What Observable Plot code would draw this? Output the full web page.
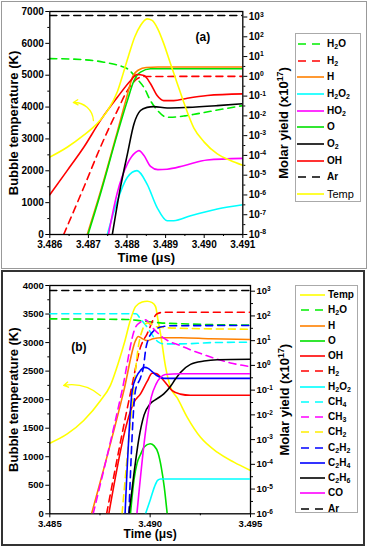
<!DOCTYPE html>
<html><head><meta charset="utf-8">
<script src="https://cdn.jsdelivr.net/npm/d3@7"></script>
<script src="https://cdn.jsdelivr.net/npm/@observablehq/plot@0.6"></script>
<style>
body{margin:0;background:#fff;font-family:"Liberation Sans",Arial,sans-serif;}
#page{position:relative;width:368px;height:550px;overflow:hidden;background:#fff;}
.box{position:absolute;box-sizing:border-box;}
.layer{position:absolute;}
.legend{position:absolute;box-sizing:border-box;border:1px solid #aaa;background:#fff;font-weight:bold;font-size:10px;color:#000;}
.row{position:absolute;left:0;height:16px;display:flex;align-items:center;white-space:nowrap;}
.row svg{flex:none;}
.row span{margin-left:3px;line-height:10px;}
.row sub{font-size:7px;vertical-align:-2px;line-height:0;}
</style></head>
<body><div id="page">
<div class="box" style="left:1px;top:1px;width:366px;height:268px;border:1px solid #999;"></div>
<div class="box" style="left:1px;top:270px;width:364px;height:276px;border:2px solid #333;"></div>
</div>
<script>
// ================= Panel (a) data =================
const timeTicksA = [3.486, 3.487, 3.488, 3.489, 3.490, 3.491];
const tempTicksA = [0, 1000, 2000, 3000, 4000, 5000, 6000, 7000];
const yieldTicksA = [1e-8, 1e-7, 1e-6, 1e-5, 1e-4, 1e-3, 1e-2, 1e-1, 1e0, 1e1, 1e2, 1e3];

const tTempA = [3.48600,3.48645,3.48688,3.48720,3.48749,3.48775,3.48790,3.48805,3.48820,3.48835,3.48852,3.48865,3.48880,3.48895,3.48913,3.48930,3.48947,3.48973,3.49000,3.49034,3.49068,3.49100];
const TempA  = [2430,2740,3120,3450,3880,4480,5050,5650,6200,6560,6770,6720,6450,6000,5350,4750,4150,3350,2900,2530,2320,2170];

const tH2O_A = [3.48600,3.48690,3.48740,3.48780,3.48800,3.48827,3.48845,3.48860,3.48880,3.48900,3.48912,3.48950,3.48980,3.49050,3.49100];
const H2O_A  = [7.9,6.9,5.2,3.5,2.5,0.71,0.25,0.063,0.018,0.0089,0.0085,0.010,0.0126,0.0224,0.033];
const tH2_A  = [3.48636,3.48688,3.48731,3.48775,3.48801,3.48826,3.48844,3.49100];
const H2_A   = [1e-8,2.4e-6,2.57e-4,0.0186,0.19,0.74,0.98,1.0];
const tH_A   = [3.48697,3.48731,3.48775,3.48800,3.48815,3.48830,3.48850,3.48880,3.49100];
const H_A    = [1e-8,1.4e-6,1.6e-3,0.1,1.0,2.1,2.8,2.95,2.95];
const tH2O2_A = [3.48749,3.48775,3.48801,3.48826,3.48852,3.48878,3.48904,3.48921,3.48965,3.49034,3.49100];
const H2O2_A  = [1e-8,5.1e-7,7.8e-6,1.7e-5,3.55e-6,2.3e-7,5.0e-8,5.0e-8,8.9e-8,1.95e-7,3.2e-7];
const tHO2_A = [3.48752,3.48774,3.48801,3.48823,3.48831,3.48844,3.48861,3.48880,3.48904,3.48947,3.49008,3.49100];
const HO2_A  = [1e-8,1.12e-6,3.7e-5,1.45e-4,1.74e-4,9.8e-5,2.8e-5,1.9e-5,2.0e-5,3.0e-5,5.9e-5,7.1e-5];
const tO_A   = [3.48699,3.48731,3.48775,3.48801,3.48818,3.48835,3.48861,3.49100];
const O_A    = [1e-8,1.12e-6,1.23e-3,0.059,0.60,1.62,2.4,2.4];
const tO2_A  = [3.48762,3.48783,3.48801,3.48818,3.48835,3.48852,3.48869,3.48904,3.48956,3.49034,3.49100];
const O2_A   = [1e-8,2.4e-6,1.17e-4,3.9e-3,0.0186,0.0269,0.0295,0.0251,0.0269,0.033,0.041];
const tOH_A  = [3.48600,3.48645,3.48688,3.48731,3.48775,3.48809,3.48826,3.48844,3.48861,3.48878,3.48895,3.48921,3.48956,3.49008,3.49100];
const OH_A   = [1.02e-6,1.7e-5,2.57e-4,5.75e-3,0.087,0.60,1.23,1.10,0.42,0.107,0.059,0.059,0.078,0.107,0.129];
const tAr_A  = [3.486,3.491];
const Ar_A   = [1200,1200];
const arrowA = {t1:3.48713, T1:3578, t2:3.48661, T2:4143};

// ================= Panel (b) data =================
const timeTicksB = [3.485, 3.490, 3.495];
const tempTicksB = [0, 500, 1000, 1500, 2000, 2500, 3000, 3500, 4000];
const yieldTicksB = [1e-6, 1e-5, 1e-4, 1e-3, 1e-2, 1e-1, 1e0, 1e1, 1e2, 1e3];

const tTempB = [3.48500,3.48587,3.48669,3.48753,3.48802,3.48842,3.48872,3.48902,3.48927,3.48960,3.48985,3.49010,3.49027,3.49039,3.49052,3.49077,3.49101,3.49135,3.49185,3.49251,3.49334,3.49417,3.49500];
const TempB  = [1237,1400,1635,1985,2250,2650,3000,3400,3630,3710,3725,3700,3630,3400,3150,2570,2220,2030,1690,1340,1080,905,759];

const tH2O_B = [3.48500,3.48880,3.48960,3.49050,3.49200,3.49500];
const H2O_B  = [76,72,63,52.5,47,42.7];
const tH_B   = [3.48708,3.48869,3.48927,3.48940,3.48957,3.48985,3.49015,3.49052,3.49151,3.49300,3.49500];
const H_B    = [1e-6,0.095,10,14.8,12.6,10,12,13.2,13.2,12,11.2];
const tO_B   = [3.48902,3.48920,3.48935,3.48952,3.48970,3.49000,3.49020,3.49040,3.49055,3.49070,3.49085];
const O_B    = [1e-6,2.5e-5,1.12e-4,2.5e-4,5.0e-4,6.8e-4,5.6e-4,2.8e-4,7.9e-5,1.26e-5,1e-6];
const tOH_B  = [3.48794,3.48922,3.48952,3.48985,3.49010,3.49030,3.49055,3.49085,3.49110,3.49150,3.49200,3.49500];
const OH_B   = [1e-6,0.035,0.071,0.224,0.48,0.47,0.316,0.166,0.095,0.069,0.062,0.062];
const tH2_B  = [3.48783,3.48905,3.48952,3.48985,3.49035,3.49068,3.49500];
const H2_B   = [1e-6,0.1,5.5,19,123,141,141];
const tH2O2_B = [3.48977,3.49002,3.49022,3.49037,3.49052,3.49500];
const H2O2_B  = [1e-6,4e-6,1.26e-5,2.24e-5,2.57e-5,2.57e-5];
const tCH4_B = [3.48500,3.48930,3.48950,3.48985,3.49020,3.49040,3.49068,3.49151,3.49300,3.49500];
const CH4_B  = [123,123,79,35.5,13.2,8.9,7.4,7.4,8.3,8.7];
const tCH3_B = [3.48716,3.48860,3.48927,3.48952,3.48977,3.49010,3.49068,3.49150,3.49280,3.49400,3.49500];
const CH3_B  = [1e-6,0.095,34.7,56,69,34.7,12.6,6.3,2.5,1.26,0.89];
const tCH2_B = [3.48860,3.48888,3.48917,3.48942,3.48962,3.48985,3.49002,3.49035,3.49135,3.49500];
const CH2_B  = [1e-6,3.2e-4,0.1,6.3,28,52,48,36,32,29];
const tC2H2_B = [3.48894,3.48927,3.48952,3.48968,3.48977,3.48993,3.49018,3.49052,3.49101,3.49500];
const C2H2_B  = [1e-6,0.1,0.316,1.0,4.0,12.6,25,35.5,40,41];
const tC2H4_B = [3.48875,3.48911,3.48932,3.48952,3.48972,3.48990,3.49010,3.49035,3.49068,3.49500];
const C2H4_B  = [1e-6,0.1,0.355,0.63,0.83,0.76,0.56,0.38,0.30,0.30];
const tC2H6_B = [3.48895,3.48919,3.48943,3.48970,3.49000,3.49035,3.49068,3.49101,3.49126,3.49151,3.49201,3.49268,3.49334,3.49500];
const C2H6_B  = [1e-6,4e-5,1e-3,0.01,0.028,0.045,0.071,0.141,0.28,0.52,1.1,1.5,1.7,1.78];
const tCO_B  = [3.48934,3.48980,3.49005,3.49030,3.49052,3.49075,3.49150,3.49500];
const CO_B   = [1e-6,3.2e-3,0.05,0.178,0.33,0.43,0.46,0.46];
const tAr_B  = [3.485,3.495];
const Ar_B   = [1070,1070];
const arrowB = {t1:3.48753, T1:2070, t2:3.48569, T2:2250};

// ================= Styles =================
const styles = {
  Temp:{color:"#ffff00"}, H2O:{color:"#00ee00",dash:"7,5"}, H2:{color:"#ff0000",dash:"7,5"},
  H:{color:"#ff8000"}, H2O2:{color:"#00ffff"}, HO2:{color:"#ff00ff"}, O:{color:"#00e000"},
  O2:{color:"#000000"}, OH:{color:"#ff0000"}, Ar:{color:"#000000",dash:"7,5"},
  CH4:{color:"#00ffff",dash:"7,5"}, CH3:{color:"#ff00ff",dash:"7,5"}, CH2:{color:"#ffee00",dash:"7,5"},
  C2H2:{color:"#0000ff",dash:"7,5"}, C2H4:{color:"#0000ff"}, C2H6:{color:"#000000"}, CO:{color:"#ff00ff"}
};
const labels = {
  Temp:"Temp", H2O:"H<sub>2</sub>O", H2:"H<sub>2</sub>", H:"H", H2O2:"H<sub>2</sub>O<sub>2</sub>",
  HO2:"HO<sub>2</sub>", O:"O", O2:"O<sub>2</sub>", OH:"OH", Ar:"Ar", CH4:"CH<sub>4</sub>",
  CH3:"CH<sub>3</sub>", CH2:"CH<sub>2</sub>", C2H2:"C<sub>2</sub>H<sub>2</sub>",
  C2H4:"C<sub>2</sub>H<sub>4</sub>", C2H6:"C<sub>2</sub>H<sub>6</sub>", CO:"CO"
};

const seriesA = [
  ["H2O",tH2O_A,H2O_A],["H2",tH2_A,H2_A],["H",tH_A,H_A],["H2O2",tH2O2_A,H2O2_A],["HO2",tHO2_A,HO2_A],
  ["O",tO_A,O_A],["O2",tO2_A,O2_A],["OH",tOH_A,OH_A],["Ar",tAr_A,Ar_A]
];
const legendA = ["H2O","H2","H","H2O2","HO2","O","O2","OH","Ar","Temp"];
const seriesB = [
  ["H2O",tH2O_B,H2O_B],["H",tH_B,H_B],["O",tO_B,O_B],["OH",tOH_B,OH_B],["H2",tH2_B,H2_B],
  ["H2O2",tH2O2_B,H2O2_B],["CH4",tCH4_B,CH4_B],["CH3",tCH3_B,CH3_B],["CH2",tCH2_B,CH2_B],
  ["C2H2",tC2H2_B,C2H2_B],["C2H4",tC2H4_B,C2H4_B],["C2H6",tC2H6_B,C2H6_B],["CO",tCO_B,CO_B],["Ar",tAr_B,Ar_B]
];
const legendB = ["Temp","H2O","H","O","OH","H2","H2O2","CH4","CH3","CH2","C2H2","C2H4","C2H6","CO","Ar"];

const rows = (ts, vs) => ts.map((t, i) => ({t, v: vs[i]}));
const FONT = "'Liberation Sans', Arial, sans-serif";
const SW = 1.6;

function supify(svg) {
  const ns = "http://www.w3.org/2000/svg";
  svg.querySelectorAll("text").forEach(el => {
    const m = el.textContent.match(/^(.*?)\^(-?\d+)(.*)$/);
    if (!m) return;
    el.textContent = "";
    const a = document.createElementNS(ns, "tspan"); a.textContent = m[1]; el.appendChild(a);
    const b = document.createElementNS(ns, "tspan"); b.textContent = m[2];
    b.setAttribute("dy", "-0.5em"); b.setAttribute("font-size", "0.68em"); el.appendChild(b);
    if (m[3]) { const c = document.createElementNS(ns, "tspan"); c.textContent = m[3]; c.setAttribute("dy", "0.34em"); el.appendChild(c); }
  });
}

function panel(cfg) {
  const common = {
    width: cfg.width, height: cfg.height,
    marginLeft: cfg.ml, marginRight: cfg.mr, marginTop: cfg.mt, marginBottom: cfg.mb,
    style: {fontFamily: FONT, fontSize: cfg.fs + "px", fontWeight: "bold", background: "transparent", overflow: "visible"}
  };
  const yieldPlot = Plot.plot({
    ...common,
    x: {domain: cfg.xDomain, axis: null},
    y: {type: "log", domain: cfg.yDomain, label: null},
    marks: [
      ...cfg.series.map(([k, ts, vs]) => Plot.line(rows(ts, vs), {
        x: "t", y: "v", stroke: styles[k].color, strokeWidth: SW,
        strokeDasharray: styles[k].dash, curve: "monotone-x", clip: true
      })),
      Plot.axisY({anchor: "right", ticks: cfg.yTicks, tickFormat: d => "10^" + Math.round(Math.log10(d)), tickSize: 4, tickPadding: 2, label: null}),
      Plot.axisY({anchor: "right", ticks: cfg.yTicks.slice(0, -1).map(d => d * 3.16), tickSize: 2, tickFormat: () => "", label: null}),
      Plot.text(["Molar yield (x10^17)"], {frameAnchor: "right", dx: cfg.rdx, rotate: -90, textAnchor: "middle", fontSize: 13, fontWeight: "bold"})
    ]
  });
  const tempPlot = Plot.plot({
    ...common,
    x: {domain: cfg.xDomain, label: null},
    y: {domain: cfg.tDomain, label: null},
    marks: [
      Plot.line(rows(cfg.tTemp, cfg.Temp), {x: "t", y: "v", stroke: styles.Temp.color, strokeWidth: SW, curve: "monotone-x"}),
      Plot.arrow([cfg.arrow], {x1: "t1", y1: "T1", x2: "t2", y2: "T2", bend: cfg.bend, stroke: styles.Temp.color, strokeWidth: 1.3, headLength: 6}),
      Plot.frame({stroke: "black", strokeWidth: 1.3}),
      Plot.axisX({ticks: cfg.xTicks, tickFormat: d3.format(".3f"), tickSize: 4, tickPadding: 2, label: null}),
      Plot.axisX({ticks: cfg.xMinor, tickSize: 2, tickFormat: () => "", label: null}),
      Plot.axisY({ticks: cfg.tTicks, tickFormat: d => String(d), tickSize: 4, tickPadding: 2, label: null}),
      Plot.axisY({ticks: cfg.tMinor, tickSize: 2, tickFormat: () => "", label: null}),
      Plot.text(["Bubble temperature (K)"], {frameAnchor: "left", dx: -35.5, rotate: -90, textAnchor: "middle", fontSize: 13, fontWeight: "bold"}),
      Plot.text(["Time (μs)"], {frameAnchor: "bottom", dy: cfg.tdy, textAnchor: "middle", fontSize: cfg.tfs, fontWeight: "bold"}),
      Plot.text([cfg.tag], {frameAnchor: "top-left", dx: cfg.tagDx, dy: cfg.tagDy, textAnchor: "middle", fontSize: 12, fontWeight: "bold"})
    ]
  });
  supify(yieldPlot);
  const page = document.getElementById("page");
  const order = cfg.tempOnTop ? [yieldPlot, tempPlot] : [tempPlot, yieldPlot];
  for (const svg of order) {
    svg.classList.add("layer");
    svg.style.left = cfg.left + "px";
    svg.style.top = cfg.top + "px";
    page.appendChild(svg);
  }
  // legend
  const lg = document.createElement("div");
  lg.className = "legend";
  Object.assign(lg.style, {left: cfg.lg.x + "px", top: cfg.lg.y + "px", width: cfg.lg.w + "px", height: cfg.lg.h + "px"});
  cfg.legend.forEach((k, i) => {
    const r = document.createElement("div");
    r.className = "row";
    r.style.top = (cfg.lg.first + i * cfg.lg.step - 8) + "px";
    r.style.left = cfg.lg.pad + "px";
    const st = styles[k];
    const w = cfg.lg.sw;
    r.innerHTML = `<svg width="${w}" height="6"><line x1="0" x2="${w}" y1="3" y2="3" stroke="${st.color}" stroke-width="${SW}" ${st.dash ? `stroke-dasharray="8,6" stroke-dashoffset="-1"` : ""}/></svg><span style="${k === "Temp" && cfg.tempNormal ? "font-weight:normal;font-size:11px" : ""}">${labels[k]}</span>`;
    lg.appendChild(r);
  });
  page.appendChild(lg);
}

panel({
  left: 0, top: 0, width: 295, height: 268, ml: 49.3, mr: 52.7, mt: 11, mb: 34, fs: 10,
  xDomain: [3.486, 3.491], yDomain: [1e-8, 1.9e3], tDomain: [0, 7000],
  xTicks: timeTicksA, xMinor: [3.4865, 3.4875, 3.4885, 3.4895, 3.4905],
  tTicks: tempTicksA, tMinor: [500, 1500, 2500, 3500, 4500, 5500, 6500],
  yTicks: yieldTicksA, series: seriesA, tTemp: tTempA, Temp: TempA,
  arrow: arrowA, bend: -45, rdx: 40.7, tdy: 27.5, tfs: 13, tag: "(a)", tagDx: 153, tagDy: 21, tempOnTop: true,
  legend: legendA, tempNormal: true,
  lg: {x: 295, y: 33, w: 66, h: 169, first: 10, step: 16.67, pad: 1, sw: 27}
});
panel({
  left: 0, top: 270, width: 295, height: 276, ml: 49.3, mr: 45, mt: 15, mb: 32.7, fs: 9.5,
  xDomain: [3.485, 3.495], yDomain: [1e-6, 1.7e3], tDomain: [0, 4000],
  xTicks: timeTicksB, xMinor: [3.4875, 3.4925],
  tTicks: tempTicksB, tMinor: [250, 750, 1250, 1750, 2250, 2750, 3250, 3750],
  yTicks: yieldTicksB, series: seriesB, tTemp: tTempB, Temp: TempB,
  arrow: arrowB, bend: -25, rdx: 34, tdy: 24.5, tfs: 12, tag: "(b)", tagDx: 29, tagDy: 57, tempOnTop: false,
  legend: legendB, tempNormal: false,
  lg: {x: 295, y: 285, w: 63, h: 228, first: 9, step: 15.26, pad: 4, sw: 25}
});
</script>
</body></html>
